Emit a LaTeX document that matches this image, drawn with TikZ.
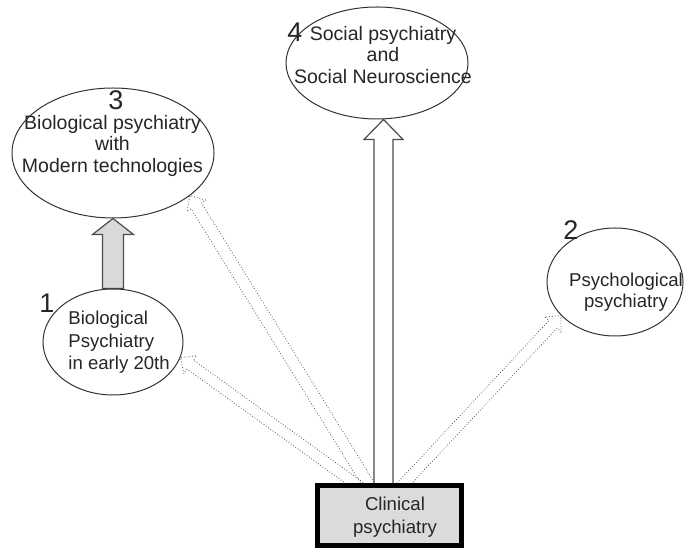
\documentclass[tikz,border=0pt]{standalone}
\usepackage{fontspec}
\setmainfont{Liberation Sans}
\usepackage{xcolor}
\usepackage{tikz}
\usetikzlibrary{positioning, calc, shapes.geometric, backgrounds}

\newcommand{\blockarrow}[6]{%
  \coordinate (ba-a) at (#2);
  \coordinate (ba-b) at (#3);
  \coordinate (ba-c) at ($(ba-b)!#6!(ba-a)$);
  \draw[#1] ($(ba-a)!#4!90:(ba-b)$) -- ($(ba-c)!#4!-90:(ba-a)$)
    -- ($(ba-c)!#5!-90:(ba-a)$) -- (ba-b)
    -- ($(ba-c)!#5!90:(ba-a)$) -- ($(ba-c)!#4!90:(ba-a)$)
    -- ($(ba-a)!#4!-90:(ba-b)$) -- cycle;
}

\begin{document}
\begin{tikzpicture}[
    x=0.5pt, y=-0.5pt,
    every node/.style={text=black!85},
    stage/.style={ellipse, draw=black!80, line width=0.5pt, inner sep=0pt},
    caption/.style={align=center, inner sep=0pt, font=\fontsize{9.75}{10.75}\selectfont},
    smallcaption/.style={inner sep=0pt, font=\fontsize{9.3}{11.25}\selectfont},
    num/.style={inner sep=0pt, font=\fontsize{13.5}{14}\selectfont},
    hollow/.style={draw=black!65, densely dotted, line width=0.4pt},
    whitearrow/.style={draw=black!70, line width=0.6pt, fill=white},
    greyarrow/.style={draw=black!70, line width=0.6pt, fill=black!15}
]
\useasboundingbox (0,0) rectangle (685,549);

\node (clin) at (389.5,515.5) [draw=black, line width=2.5pt, fill=black!14,
    minimum width=72pt, minimum height=30pt, inner sep=0pt] {};
\node (clinlabel) at (395,517.5) [smallcaption, align=center,
    font=\fontsize{9.3}{11.5}\selectfont] {Clinical\\psychiatry};

\node (bio1) at (113,342) [stage, minimum width=70pt, minimum height=53pt] {};
\node (bio1label) at (68,342.4) [smallcaption, align=left, anchor=west]
    {Biological\\Psychiatry\\in early 20th};
\node (num1) at (47,303) [num] {1};

\node (psy) at (615,282) [stage, minimum width=68pt, minimum height=54pt] {};
\node (psylabel) at (626,292.4) [smallcaption, align=center,
    font=\fontsize{9.3}{10.5}\selectfont] {Psychological\\psychiatry};
\node (num2) at (571,230) [num] {2};

\node (bio3) at (113,153) [stage, minimum width=101pt, minimum height=65pt] {};
\node (bio3label) at (112.5,145.5) [caption]
    {Biological psychiatry\\with\\Modern technologies};
\node (num3) at (116,100) [num] {3};

\node (soc) at (377,63) [stage, minimum width=91pt, minimum height=56pt] {};
\node (soclabel) at (383,55) [caption]
    {Social psychiatry\\and\\Social Neuroscience};
\node (num4) at (295,32) [num] {4};

\coordinate (base1) at ($(clin.north)+(-26.6,6)$);
\coordinate (base3) at ($(clin.north)+(-18.2,6)$);
\coordinate (base2) at ($(clin.north)+(9.5,6)$);
\coordinate (base4) at ($(clin.north)+(-6,6)$);

\begin{pgfonlayer}{background}
\blockarrow{greyarrow}{bio1.north}{bio3.south}{5.25pt}{10.25pt}{8pt}
\blockarrow{whitearrow}{base4}{base4 |- soc.south}{4.75pt}{9.75pt}{10pt}
\blockarrow{hollow}{base1}{bio1.-13}{2.75pt}{5.5pt}{6pt}
\blockarrow{hollow}{base3}{bio3.-29}{3pt}{5.5pt}{6pt}
\blockarrow{hollow}{base2}{psy.212}{2.75pt}{5.5pt}{6pt}
\end{pgfonlayer}

\end{tikzpicture}
\end{document}
